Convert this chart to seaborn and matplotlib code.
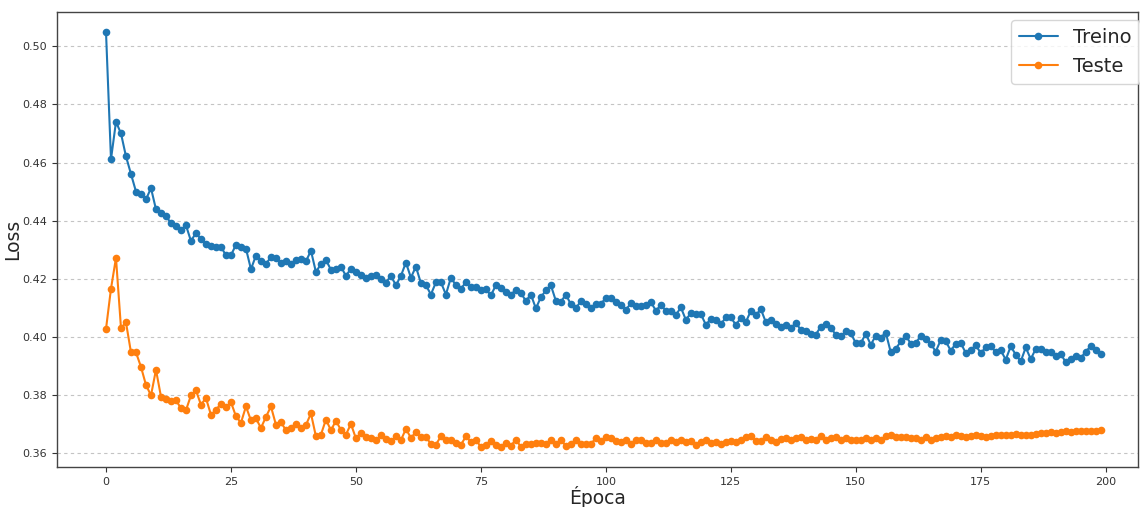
import numpy as np
import pandas as pd
import matplotlib
matplotlib.use("Agg")
import matplotlib.pyplot as plt
import seaborn as sns

epocas = list(range(200))

treino = [
    0.505, 0.4611, 0.474, 0.470, 0.4621, 0.456, 0.450, 0.4493, 0.4473, 0.4512,
    0.4439, 0.4426, 0.4416, 0.4391, 0.438, 0.4368, 0.4384, 0.433, 0.4358, 0.4336,
    0.4321, 0.4313, 0.431, 0.431, 0.4281, 0.4281, 0.4317, 0.431, 0.4304, 0.4233,
    0.428, 0.4262, 0.4251, 0.4275, 0.4271, 0.4255, 0.4262, 0.4251, 0.4266, 0.4268,
    0.426, 0.4297, 0.4223, 0.4251, 0.4265, 0.4231, 0.4233, 0.4242, 0.421, 0.4235,
    0.4225, 0.4214, 0.4202, 0.421, 0.4214, 0.420, 0.4187, 0.421, 0.4178, 0.421,
    0.4256, 0.4204, 0.4242, 0.4185, 0.4178, 0.4146, 0.4188, 0.4188, 0.4146, 0.4204,
    0.4178, 0.4166, 0.4188, 0.4171, 0.4173, 0.4162, 0.4164, 0.4143, 0.4178, 0.4169,
    0.4153, 0.4146, 0.4162, 0.4151, 0.4124, 0.4146, 0.4098, 0.4137, 0.416, 0.4178,
    0.4124, 0.4121, 0.4146, 0.4112, 0.4098, 0.4124, 0.4112, 0.4098, 0.4112, 0.4114,
    0.4134, 0.4134, 0.412, 0.4111, 0.4093, 0.4116, 0.4105, 0.4105, 0.4111, 0.412,
    0.4091, 0.4109, 0.4091, 0.4091, 0.4075, 0.4102, 0.4059, 0.4082, 0.4079, 0.4079,
    0.4042, 0.4062, 0.4057, 0.4044, 0.4067, 0.4067, 0.4042, 0.4065, 0.4051, 0.409,
    0.4075, 0.4096, 0.4051, 0.4057, 0.4045, 0.4036, 0.4042, 0.4031, 0.4048, 0.4025,
    0.4021, 0.4011, 0.4008, 0.4036, 0.4044, 0.4031, 0.4008, 0.4002, 0.4019, 0.4013,
    0.3979, 0.3979, 0.4011, 0.3973, 0.4005, 0.3998, 0.4015, 0.3947, 0.3959, 0.3985,
    0.4004, 0.3977, 0.3979, 0.4004, 0.3994, 0.3976, 0.395, 0.399, 0.3985, 0.3953,
    0.3977, 0.3979, 0.3945, 0.3956, 0.3971, 0.3945, 0.3964, 0.3968, 0.3948, 0.3954,
    0.3922, 0.3968, 0.3939, 0.3916, 0.3964, 0.3924, 0.3959, 0.3957, 0.395, 0.3948,
    0.3933, 0.3942, 0.3913, 0.3924, 0.3935, 0.3927, 0.395, 0.3968, 0.3956, 0.3942,
]

teste = [
    0.4027, 0.4166, 0.4272, 0.4031, 0.405, 0.3947, 0.3947, 0.3897, 0.3835, 0.3799,
    0.3887, 0.3795, 0.3788, 0.3781, 0.3782, 0.3755, 0.3748, 0.3799, 0.3816, 0.3767,
    0.379, 0.3732, 0.3749, 0.3771, 0.3758, 0.3776, 0.3727, 0.3705, 0.3761, 0.3713,
    0.372, 0.3687, 0.3725, 0.3761, 0.3698, 0.3706, 0.368, 0.3686, 0.3702, 0.3687,
    0.3697, 0.3737, 0.3658, 0.3664, 0.3716, 0.3679, 0.3712, 0.368, 0.3664, 0.3701,
    0.3651, 0.367, 0.3655, 0.3651, 0.3645, 0.3662, 0.3649, 0.3641, 0.3658, 0.3645,
    0.3684, 0.3653, 0.3673, 0.3655, 0.3655, 0.3633, 0.363, 0.3658, 0.3645, 0.3645,
    0.3636, 0.3629, 0.3658, 0.3639, 0.3647, 0.3621, 0.3629, 0.3641, 0.363, 0.3622,
    0.3636, 0.3626, 0.3647, 0.3622, 0.3633, 0.3633, 0.3636, 0.3636, 0.3633, 0.3645,
    0.3633, 0.3645, 0.3626, 0.3633, 0.3645, 0.3633, 0.3633, 0.3633, 0.3651, 0.3641,
    0.3655, 0.3651, 0.3641, 0.3638, 0.3645, 0.3632, 0.3647, 0.3647, 0.3636, 0.3636,
    0.3647, 0.3636, 0.3636, 0.3647, 0.3639, 0.3647, 0.3638, 0.3641, 0.3627, 0.3639,
    0.3644, 0.3636, 0.3639, 0.3632, 0.3639, 0.3641, 0.3638, 0.3647, 0.3655, 0.3661,
    0.3641, 0.3641, 0.3655, 0.3644, 0.3639, 0.365, 0.3651, 0.3647, 0.3651, 0.3655,
    0.3647, 0.365, 0.3647, 0.3661, 0.3647, 0.3651, 0.3655, 0.3647, 0.3651, 0.3647,
    0.3647, 0.3647, 0.3651, 0.3647, 0.3651, 0.3647, 0.3659, 0.3663, 0.3655, 0.3655,
    0.3655, 0.3651, 0.3651, 0.3647, 0.3655, 0.3647, 0.3651, 0.3656, 0.3659, 0.3655,
    0.3663, 0.3659, 0.3655, 0.3659, 0.3663, 0.3659, 0.3655, 0.3659, 0.3663, 0.3663,
    0.3663, 0.3663, 0.3667, 0.3663, 0.3663, 0.3663, 0.3667, 0.3669, 0.3669, 0.3672,
    0.3669, 0.3672, 0.3675, 0.3672, 0.3676, 0.3678, 0.3675, 0.3675, 0.3678, 0.3681,
]

series_names = ["Treino", "Teste"]
y_ticks = [0.36, 0.38, 0.40, 0.42, 0.44, 0.46, 0.48, 0.50]
x_ticks = [0, 25, 50, 75, 100, 125, 150, 175, 200]

df = pd.DataFrame({
    "Época": epocas + epocas,
    "Loss": treino + teste,
    "Série": [series_names[0]] * len(treino) + [series_names[1]] * len(teste),
})

sns.set_style("white")
plt.rcParams["font.family"] = ["DejaVu Sans"]

fig = plt.figure(figsize=(11.4, 5.07), dpi=100)
ax = fig.add_axes([0.05, 0.079, 0.948, 0.897])

sns.lineplot(
    data=df, x="Época", y="Loss", hue="Série",
    palette=["#1f77b4", "#ff7f0e"], marker="o", markersize=5.5,
    markeredgewidth=0, linewidth=1.5, ax=ax, legend=True,
)

ax.set_xlim(-9.8, 206.4)
ax.set_ylim(0.3553, 0.5117)
ax.set_yticks(y_ticks)
ax.set_yticklabels([f"{t:.2f}" for t in y_ticks])
ax.set_xticks(x_ticks)
ax.tick_params(axis="both", labelsize=8, colors="#333333", length=3.5,
               width=0.8, pad=3.5, direction="out", bottom=True, left=True)
ax.yaxis.grid(True, linestyle=(0, (3, 3)), color="#c4c4c4", linewidth=0.8)
ax.xaxis.grid(False)
ax.set_axisbelow(True)
for s in ax.spines.values():
    s.set_color("#444444")
    s.set_linewidth(1.0)

ax.set_xlabel("Época", fontsize=13.5)
ax.set_ylabel("Loss", fontsize=13.5)
ax.xaxis.set_label_coords(0.5, -0.066)
ax.xaxis.label.set_va("center")
ax.yaxis.set_label_coords(-0.041, 0.5)
ax.yaxis.label.set_va("center")

leg = ax.legend(loc="upper right", bbox_to_anchor=(1.002, 0.982),
                borderaxespad=0.0, fontsize=14, frameon=True,
                handlelength=2.0)
leg.get_frame().set_edgecolor("#cccccc")

fig.savefig("out.png", dpi=100)
